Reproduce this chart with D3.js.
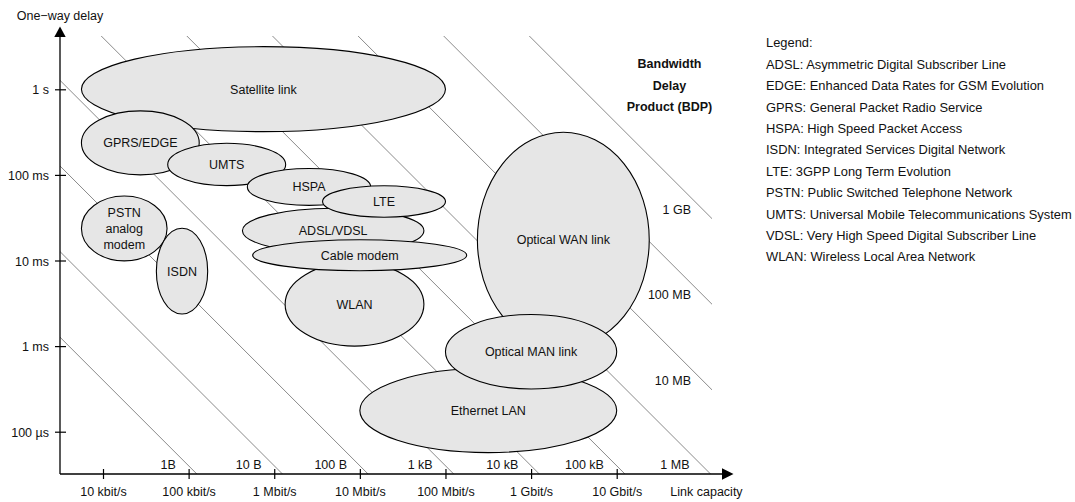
<!DOCTYPE html>
<html>
<head>
<meta charset="utf-8">
<script src="https://cdn.jsdelivr.net/npm/d3@7/dist/d3.min.js"></script>
<style>
  html, body { margin: 0; padding: 0; background: #fff; }
  svg { display: block; font-family: "Liberation Sans", Arial, Helvetica, sans-serif; }
</style>
</head>
<body>
<svg id="chart" width="1075" height="502"></svg>
<script>
// Link capacity ticks (bit/s) and one-way delay ticks (s)
const capacityTicks = [1e4, 1e5, 1e6, 1e7, 1e8, 1e9, 1e10];
const capacityLabels = ["10 kbit/s", "100 kbit/s", "1 Mbit/s", "10 Mbit/s", "100 Mbit/s", "1 Gbit/s", "10 Gbit/s"];
const delayTicks = [1e-4, 1e-3, 1e-2, 1e-1, 1];
const delayLabels = ["100 µs", "1 ms", "10 ms", "100 ms", "1 s"];

// Bandwidth-delay product iso-lines (bytes); BDP = capacity × RTT, RTT = 2 × one-way delay
const bdpValues = [1, 10, 100, 1e3, 1e4, 1e5, 1e6, 1e7, 1e8, 1e9];
const bdpLabels = ["1B", "10 B", "100 B", "1 kB", "10 kB", "100 kB", "1 MB", "10 MB", "100 MB", "1 GB"];

// Link technologies: capacity range (bit/s) and one-way delay range (s), in drawing order
const techNames = ["Satellite link", "GPRS/EDGE", "UMTS", "HSPA", "ADSL/VDSL", "LTE", "WLAN",
                   "Cable modem", "PSTN\nanalog\nmodem", "ISDN", "Optical WAN link", "Ethernet LAN", "Optical MAN link"];
const techCapMin   = [5.6e3, 5.6e3, 5.7e4, 4.85e5, 4.25e5, 3.67e6, 1.34e6, 5.6e5, 5.6e3, 4.2e4, 2.36e8, 1e7,  1e8];
const techCapMax   = [1e8,  1.33e5, 1.36e6, 1.34e7, 5.6e7, 1e8,   5.6e7, 1.77e8, 5.6e4, 1.67e5, 2.4e10, 1e10, 1e10];
const techDelayMin = [0.32, 0.1,  0.075, 0.044, 0.0122, 0.032, 1e-3,  7.6e-3, 9.9e-3, 2.37e-3, 9.6e-4, 5.7e-5, 3.16e-4];
const techDelayMax = [3.15, 0.56, 0.234, 0.119, 0.0407, 0.0746, 9.5e-3, 0.0175, 0.0566, 0.0238, 0.315, 5.5e-4, 2.34e-3];

const legendTitle = "Legend:";
const legendItems = [
  "ADSL: Asymmetric Digital Subscriber Line",
  "EDGE: Enhanced Data Rates for GSM Evolution",
  "GPRS: General Packet Radio Service",
  "HSPA: High Speed Packet Access",
  "ISDN: Integrated Services Digital Network",
  "LTE: 3GPP Long Term Evolution",
  "PSTN: Public Switched Telephone Network",
  "UMTS: Universal Mobile Telecommunications System",
  "VDSL: Very High Speed Digital Subscriber Line",
  "WLAN: Wireless Local Area Network"
];
const bdpTitle = ["Bandwidth", "Delay", "Product (BDP)"];

// ---- layout ----
const FS = 12.5;
const LEGEND_FS = 12.9;
const originX = 60, originY = 474;
const plotRight = 712, plotTop = 36;
const xAxisEnd = 722, yAxisEnd = 37;

const svg = d3.select("#chart");
const x = d3.scaleLog().domain([1e4, 1e10]).range([103, 616.7]);
const y = d3.scaleLog().domain([1e-4, 1]).range([431.7, 89.3]);

// clip region for the BDP lines
svg.append("defs").append("clipPath").attr("id", "plotClip")
  .append("rect").attr("x", originX).attr("y", plotTop)
  .attr("width", plotRight - originX).attr("height", originY - plotTop);

// BDP lines: capacity × one-way delay = 4 × bytes (bits)
const bdpG = svg.append("g");
bdpValues.forEach((B, i) => {
  const k = 4 * B;
  const bA = x.invert(0), bB = x.invert(900);
  bdpG.append("line")
    .attr("clip-path", "url(#plotClip)")
    .attr("x1", x(bA)).attr("y1", y(k / bA))
    .attr("x2", x(bB)).attr("y2", y(k / bB))
    .attr("stroke", "#8a8a8a").attr("stroke-width", 1);

  // label sits left of the line's lower/right end
  let ex = x(k / y.invert(originY)), ey = originY;
  if (ex > plotRight) { ex = plotRight; ey = y(k / x.invert(plotRight)); }
  bdpG.append("text")
    .attr("x", ex - 21).attr("y", ey - 5)
    .attr("text-anchor", "end").attr("font-size", FS).attr("fill", "#111")
    .text(bdpLabels[i]);
});

// technology ellipses
const techG = svg.append("g");
techNames.forEach((name, i) => {
  const x0 = x(techCapMin[i]), x1 = x(techCapMax[i]);
  const y0 = y(techDelayMax[i]), y1 = y(techDelayMin[i]);
  const cx = (x0 + x1) / 2, cy = (y0 + y1) / 2;
  const g = techG.append("g");
  g.append("ellipse")
    .attr("cx", cx).attr("cy", cy)
    .attr("rx", (x1 - x0) / 2).attr("ry", (y1 - y0) / 2)
    .attr("fill", "#e6e6e6").attr("stroke", "#000").attr("stroke-width", 1.1);
  const lines = name.split("\n");
  const lh = 16;
  const t = g.append("text")
    .attr("text-anchor", "middle").attr("font-size", FS).attr("fill", "#111");
  lines.forEach((ln, j) => {
    t.append("tspan")
      .attr("x", cx)
      .attr("y", cy + 4.5 + (j - (lines.length - 1) / 2) * lh)
      .text(ln);
  });
});

// axes
const axG = svg.append("g");
axG.append("line").attr("x1", originX).attr("y1", originY).attr("x2", originX).attr("y2", yAxisEnd)
  .attr("stroke", "#000").attr("stroke-width", 1.3);
axG.append("line").attr("x1", originX).attr("y1", originY).attr("x2", xAxisEnd).attr("y2", originY)
  .attr("stroke", "#000").attr("stroke-width", 1.3);
axG.append("path").attr("d", `M${originX - 5.7},${yAxisEnd} L${originX + 5.7},${yAxisEnd} L${originX},${yAxisEnd - 10.5} Z`)
  .attr("fill", "#000");
axG.append("path").attr("d", `M${xAxisEnd},${originY - 5.7} L${xAxisEnd},${originY + 5.7} L${xAxisEnd + 11.5},${originY} Z`)
  .attr("fill", "#000");

const xAxis = d3.axisBottom(x).tickValues(capacityTicks)
  .tickFormat((d, i) => capacityLabels[i]).tickSize(5).tickSizeOuter(0).tickPadding(0);
const gx = svg.append("g").attr("transform", `translate(0,${originY})`).call(xAxis);
gx.select(".domain").remove();
gx.selectAll(".tick line").attr("y1", -5).attr("y2", 5).attr("stroke", "#000").attr("stroke-width", 1.2);
gx.selectAll(".tick text").attr("y", 22).attr("dy", null)
  .attr("font-size", FS).attr("font-family", null).attr("fill", "#111");

const yAxis = d3.axisLeft(y).tickValues(delayTicks)
  .tickFormat((d, i) => delayLabels[i]).tickSize(5).tickSizeOuter(0);
const gy = svg.append("g").attr("transform", `translate(${originX},0)`).call(yAxis);
gy.select(".domain").remove();
gy.selectAll(".tick line").attr("x1", -5).attr("x2", 6).attr("stroke", "#000").attr("stroke-width", 1.2);
gy.selectAll(".tick text").attr("x", -11).attr("dy", "0.36em")
  .attr("font-size", FS).attr("font-family", null).attr("fill", "#111");

// axis titles
svg.append("text").attr("x", originX).attr("y", 20).attr("text-anchor", "middle")
  .attr("font-size", FS).attr("fill", "#111").text("One\u2212way delay");
svg.append("text").attr("x", 706.5).attr("y", 496).attr("text-anchor", "middle")
  .attr("font-size", FS).attr("fill", "#111").text("Link capacity");

// BDP heading
bdpTitle.forEach((s, i) => {
  svg.append("text").attr("x", 669.5).attr("y", 68.2 + i * 21.4).attr("text-anchor", "middle")
    .attr("font-size", FS).attr("font-weight", "bold").attr("fill", "#111").text(s);
});

// legend
const legG = svg.append("g").attr("transform", "translate(766,0)");
[legendTitle].concat(legendItems).forEach((s, i) => {
  legG.append("text").attr("x", 0).attr("y", 47.4 + i * 21.4)
    .attr("font-size", LEGEND_FS).attr("fill", "#111").text(s);
});
</script>
</body>
</html>
